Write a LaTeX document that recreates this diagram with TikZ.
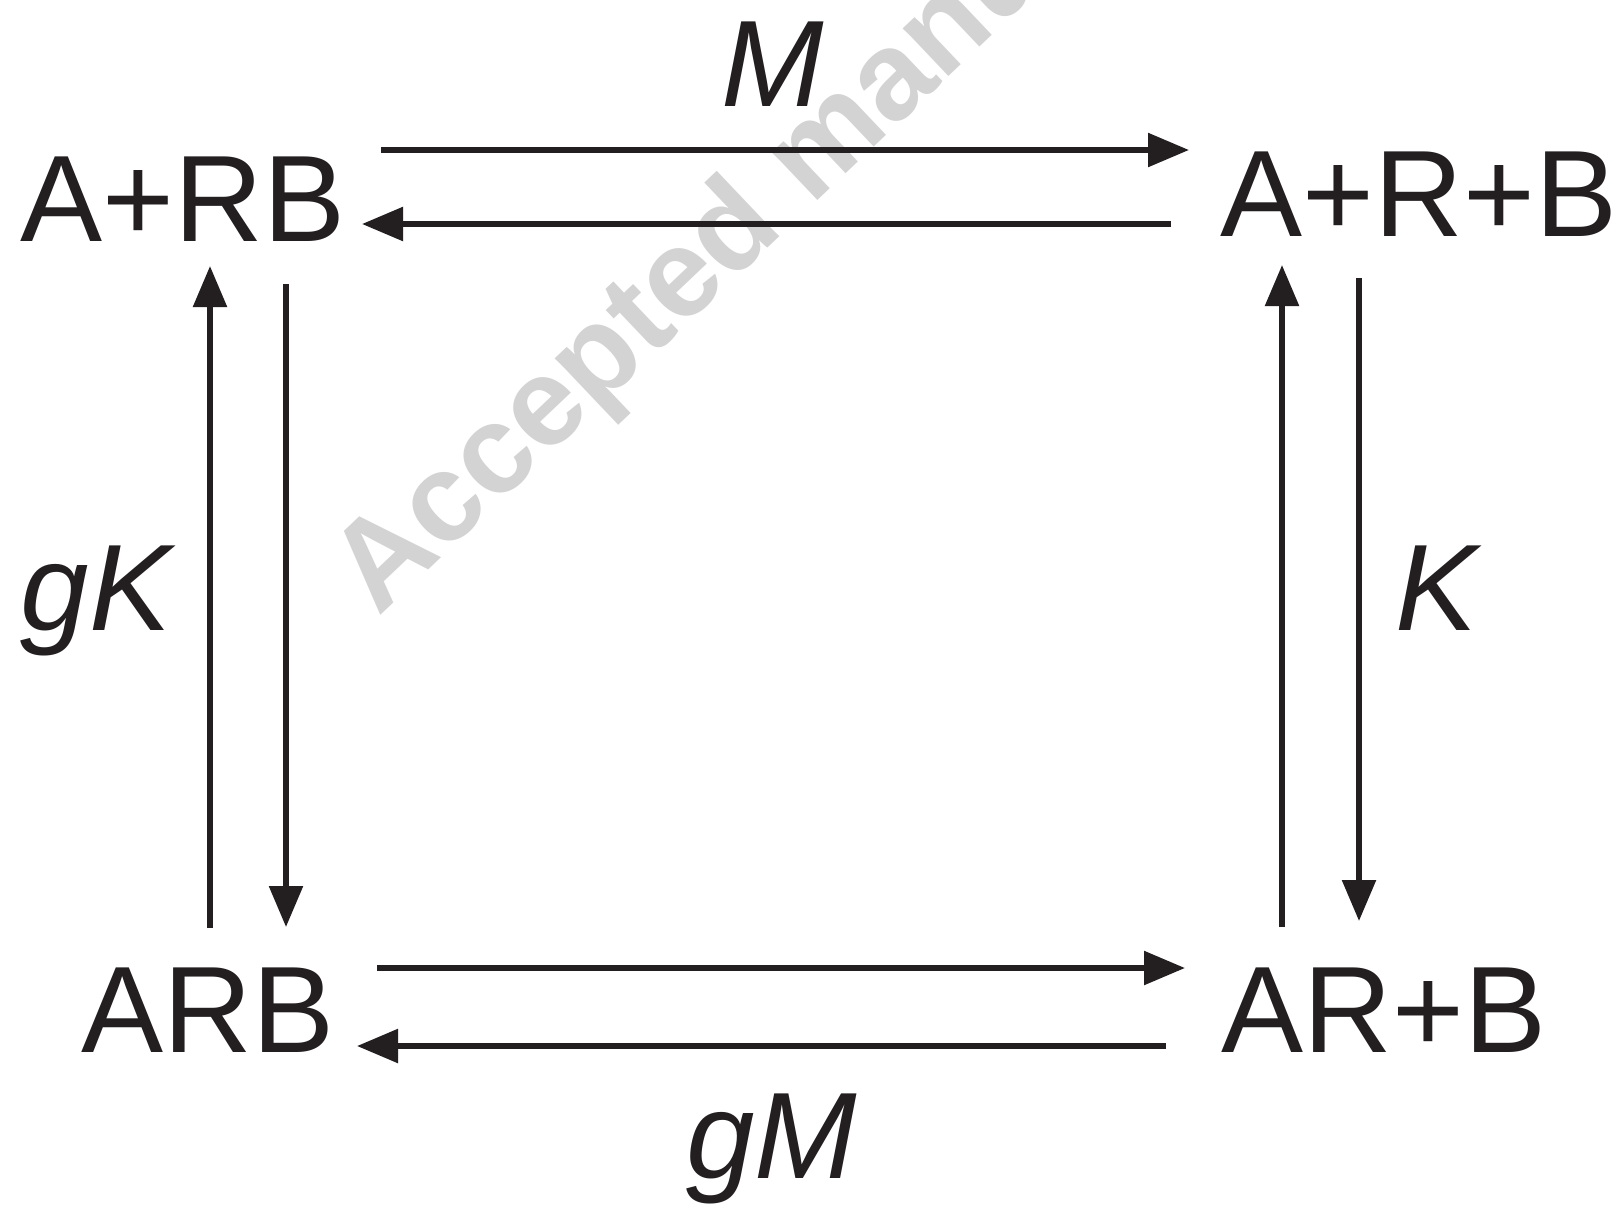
\documentclass[tikz,border=0pt]{standalone}
\usepackage{fontspec}
\setmainfont{Liberation Sans}
\usetikzlibrary{arrows.meta}
\definecolor{ink}{HTML}{231F20}
\definecolor{wm}{HTML}{D3D3D3}
\tikzset{
  species/.style={anchor=base, inner sep=0pt, text=ink, font=\fontsize{61.5}{70}\selectfont},
  rate/.style={anchor=base, inner sep=0pt, text=ink, font=\fontsize{61.5}{70}\selectfont\itshape},
  arr/.style={draw=ink, line width=2.8pt, -{Triangle[length=20.5pt,width=16.5pt]}},
  watermark/.style={anchor=base west, inner sep=0pt, text=wm, font=\fontsize{62.5}{70}\selectfont\bfseries, rotate=43.5}
}
\begin{document}
\begin{tikzpicture}[x=0.5pt,y=-0.5pt]
\useasboundingbox (0,0) rectangle (1620,1211);
\clip (0,0) rectangle (1620,1211);
\fill[white] (0,0) rectangle (1620,1211);
% watermark
\node[watermark] (wmtext) at (378,618) {Accepted manuscript};
% species
\node[species] (ARB1) at (183,241) {A+RB};
\node[species] (ARpB) at (1419,236) {A+R+B};
\node[species] (ARB2) at (208,1052) {ARB};
\node[species] (ARB3) at (1384,1052) {AR+B};
% rate labels
\node[rate] (lM) at (773,106) {M};
\node[rate] (lgK) at (96,630) {gK};
\node[rate] (lK) at (1436,630) {K};
\node[rate] (lgM) at (772,1178) {gM};
% arrow end points
\coordinate (t1s) at (381,150);  \coordinate (t1e) at (1189,150);
\coordinate (t2s) at (1171,224); \coordinate (t2e) at (362,224);
\coordinate (b1s) at (377,968);  \coordinate (b1e) at (1185,968);
\coordinate (b2s) at (1166,1046);\coordinate (b2e) at (357,1046);
\coordinate (l1s) at (210,928);  \coordinate (l1e) at (210,266);
\coordinate (l2s) at (286,284);  \coordinate (l2e) at (286,927);
\coordinate (r1s) at (1282,927); \coordinate (r1e) at (1282,265);
\coordinate (r2s) at (1359,278); \coordinate (r2e) at (1359,921);
% arrows
\draw[arr] (t1s) -- (t1e);
\draw[arr] (t2s) -- (t2e);
\draw[arr] (b1s) -- (b1e);
\draw[arr] (b2s) -- (b2e);
\draw[arr] (l1s) -- (l1e);
\draw[arr] (l2s) -- (l2e);
\draw[arr] (r1s) -- (r1e);
\draw[arr] (r2s) -- (r2e);
\end{tikzpicture}
\end{document}
